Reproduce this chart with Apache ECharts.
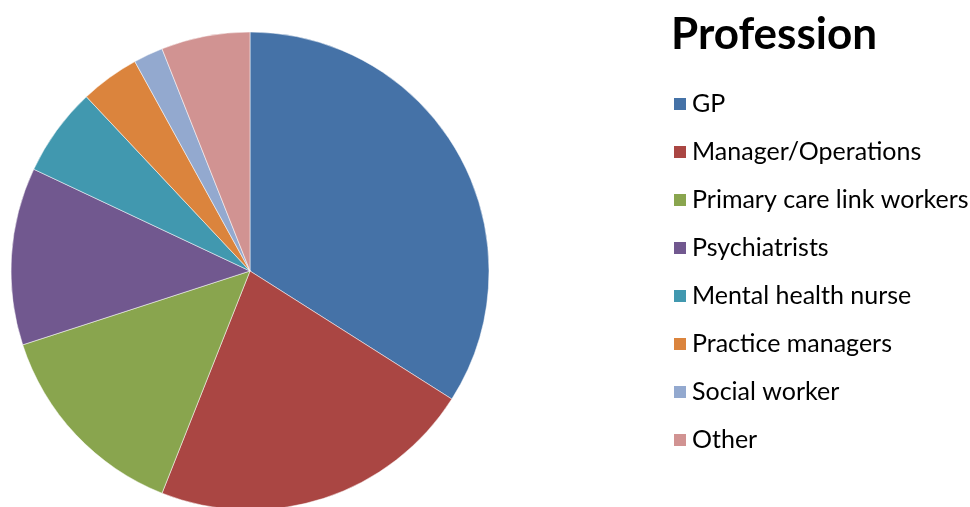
<!DOCTYPE html>
<html>
<head>
<meta charset="utf-8">
<script src="https://cdn.jsdelivr.net/npm/echarts@6/dist/echarts.min.js"></script>
<style>
  html, body { margin: 0; padding: 0; background: #fff; }
  #chart { width: 970px; height: 507px; }
</style>
</head>
<body>
<div id="chart"></div>
<script>
// professions and their share
const professions = ['GP', 'Manager/Operations', 'Primary care link workers', 'Psychiatrists',
  'Mental health nurse', 'Practice managers', 'Social worker', 'Other']
const counts = [34, 22, 14, 12, 6, 4, 2, 6]
const colors = ['#4572A7', '#AA4643', '#89A54E', '#71588F', '#4198AF', '#DB843D', '#93A9CF', '#D19392']

const chart = echarts.init(document.getElementById('chart'))
const option = {
  animation: false,
  color: colors,
  title: {
    text: 'Profession',
    left: 666,
    top: 8,
    textStyle: { fontFamily: 'Lato', fontSize: 44, fontWeight: 'bold', color: '#000' }
  },
  legend: {
    orient: 'vertical',
    left: 667,
    top: 86,
    icon: 'rect',
    itemWidth: 14,
    itemHeight: 14,
    itemGap: 22,
    data: professions,
    textStyle: { fontFamily: 'Lato', fontSize: 25, color: '#000', lineHeight: 26 }
  },
  series: [
    {
      type: 'pie',
      center: [250, 271],
      radius: 239,
      startAngle: 90,
      clockwise: true,
      label: { show: false },
      labelLine: { show: false },
      itemStyle: { borderColor: '#fff', borderWidth: 0.5 },
      data: professions.map((name, i) => ({ name: name, value: counts[i] }))
    }
  ]
}
chart.setOption(option)
</script>
</body>
</html>
